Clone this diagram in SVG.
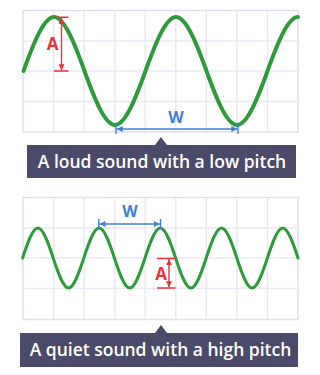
<svg xmlns="http://www.w3.org/2000/svg" width="320" height="375" viewBox="0 0 320 375">
<style>
.bg{fill:#ffffff}
.grid{stroke:#e9e9f3;stroke-width:1.5;fill:none}
.frame{stroke:#e0e0ee;stroke-width:1.5;fill:none}
.wave{fill:none;stroke:#2f9a3c;stroke-linecap:round}
.red{stroke:#e8323c;stroke-width:1.4;fill:none}
.blue{stroke:#3f7fd6;stroke-width:1.4;fill:none}
.lblA{font-family:"Open Sans","Liberation Sans",sans-serif;font-weight:700;font-size:17px;fill:#e8323c;text-anchor:middle}
.lblW{font-family:"Open Sans","Liberation Sans",sans-serif;font-weight:700;font-size:16px;fill:#3f7fd6;text-anchor:middle}
.box{fill:#4b4a6b}
.cap{font-family:"Open Sans","Liberation Sans",sans-serif;font-weight:600;font-size:17.5px;fill:#ffffff;text-anchor:middle}
</style>
<defs>
<marker id="ar" viewBox="0 0 6 6" refX="6" refY="3" markerWidth="6" markerHeight="6" markerUnits="userSpaceOnUse" orient="auto-start-reverse"><path d="M0,0 L6,3 L0,6 Z" fill="#e8323c"/></marker>
<marker id="ab" viewBox="0 0 6 6" refX="6" refY="3" markerWidth="6" markerHeight="6" markerUnits="userSpaceOnUse" orient="auto-start-reverse"><path d="M0,0 L6,3 L0,6 Z" fill="#3f7fd6"/></marker>
</defs>
<rect class="bg" x="0" y="0" width="320" height="375"/>

<g id="graph-loud">
<path class="grid" d="M53.6,10.5V132M84.1,10.5V132M114.7,10.5V132M145.2,10.5V132M175.8,10.5V132M206.4,10.5V132M236.9,10.5V132M267.5,10.5V132M23,41H298M23,71H298M23,101.5H298"/>
<rect class="frame" x="23" y="10.5" width="275" height="121.5"/>
<path class="wave" stroke-width="4" d="M23.5,71 C33.45,43.34 43.830,17 54,17 C64.17,17 74.55,43.34 84.5,71 C94.45,98.66 104.83,125 115,125 C125.17,125 135.55,98.66 145.5,71 C155.45,43.34 165.83,17 176,17 C186.17,17 196.55,43.34 206.5,71 C216.45,98.66 226.83,125 237,125 C247.17,125 257.55,98.66 267.5,71 C277.45,43.34 287.83,17 298,17"/>
</g>

<g id="graph-quiet">
<path class="grid" d="M53.6,197.5V319.5M84.1,197.5V319.5M114.7,197.5V319.5M145.2,197.5V319.5M175.8,197.5V319.5M206.4,197.5V319.5M236.9,197.5V319.5M267.5,197.5V319.5M23,228H298M23,258H298M23,288.5H298"/>
<rect class="frame" x="23" y="197.5" width="275" height="122"/>
<path class="wave" stroke-width="3" d="M22.6,258 C27.59,242.63 32.8,228 37.9,228 C43,228 48.21,242.63 53.2,258 C58.19,273.37 63.4,288 68.5,288 C73.6,288 78.81,273.37 83.8,258 C88.79,242.63 94,228 99.1,228 C104.2,228 109.41,242.63 114.4,258 C119.39,273.37 124.6,288 129.7,288 C134.8,288 140.01,273.37 145,258 C149.99,242.63 155.2,228 160.3,228 C165.4,228 170.61,242.63 175.6,258 C180.59,273.37 185.8,288 190.9,288 C196,288 201.21,273.37 206.2,258 C211.19,242.63 216.4,228 221.5,228 C226.6,228 231.81,242.63 236.8,258 C241.79,273.37 247,288 252.1,288 C257.2,288 262.41,273.37 267.4,258 C272.39,242.63 277.6,228 282.7,228 C287.8,228 293.01,242.63 298,258"/>
</g>

<g id="connectors">
<g id="amp-loud">
<path class="red" d="M54,17.3H68.5M54,71H68.5"/>
<line class="red" x1="61.5" y1="18" x2="61.5" y2="70.3" marker-start="url(#ar)" marker-end="url(#ar)"/>
</g>
<g id="wl-loud">
<path class="blue" d="M116,124V134M238,124V134"/>
<line class="blue" x1="116.7" y1="129" x2="237.3" y2="129" marker-start="url(#ab)" marker-end="url(#ab)"/>
</g>
<g id="wl-quiet">
<path class="blue" d="M98.8,219V229M160.5,219V229"/>
<line class="blue" x1="99.5" y1="224" x2="159.8" y2="224" marker-start="url(#ab)" marker-end="url(#ab)"/>
</g>
<g id="amp-quiet">
<path class="red" d="M157,258.5H175.5M157,288H175.5"/>
<line class="red" x1="169" y1="259.2" x2="169" y2="287.3" marker-start="url(#ar)" marker-end="url(#ar)"/>
</g>
</g>

<g id="labels">
<text class="lblA" x="52.5" y="49.5">A</text>
<text class="lblW" x="176" y="122.5">W</text>
<text class="lblW" x="130" y="217">W</text>
<text class="lblA" x="161" y="279.5">A</text>
</g>

<g id="caption-loud">
<path class="box" d="M27,145 H155 L161,137 L167,145 H296 V178 H27 Z"/>
<text class="cap" x="162" y="168">A loud sound with a low pitch</text>
</g>
<g id="caption-quiet">
<path class="box" d="M20,333 H155 L161,325 L167,333 H298 V367 H20 Z"/>
<text class="cap" x="160.5" y="356">A quiet sound with a high pitch</text>
</g>
</svg>
